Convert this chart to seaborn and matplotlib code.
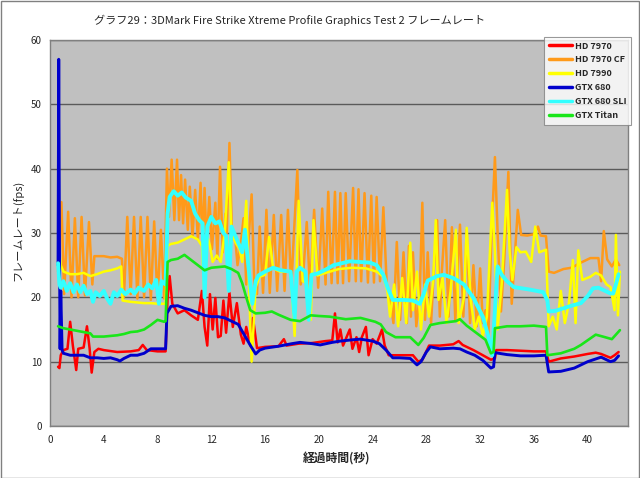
import matplotlib
matplotlib.use("Agg")
import matplotlib.pyplot as plt
import seaborn as sns
import pandas as pd
from matplotlib.patches import Rectangle
from matplotlib.lines import Line2D

# ---------------- data ----------------
series_names = ["HD 7970", "HD 7970 CF", "HD 7990", "GTX 680", "GTX 680 SLI", "GTX Titan"]
series_colors = ["#FF0000", "#FF9A1A", "#FFFF00", "#0000CC", "#33FFFF", "#19E619"]

hd7970_t = [0.6, 0.7, 0.8, 1.0, 1.3, 1.5, 1.7, 1.95, 2.1, 2.5, 2.75, 2.95, 3.1, 3.3, 3.6, 4.0, 5.0, 6.0, 6.6, 6.9, 7.2, 8.0, 8.6,
            8.75, 8.9, 9.1, 9.5, 10.0, 10.5, 11.0, 11.3, 11.5, 11.7, 11.9, 12.1, 12.3, 12.5, 12.7, 12.9, 13.1, 13.35, 13.6,
            13.9, 14.2, 14.4, 14.6, 14.9, 15.1, 15.4, 16.0, 17.0, 17.4, 17.6, 18.5, 19.5, 20.5, 21.0, 21.2, 21.4, 21.6, 21.8,
            22.0, 22.3, 22.5, 22.8, 23.0, 23.2, 23.5, 23.7, 24.0, 24.3, 24.7, 24.9, 25.2, 26.0, 27.0, 27.4, 27.7, 28.2, 29.0,
            30.0, 30.4, 30.7, 31.5, 32.2, 32.8, 33.1, 33.2, 34.0, 35.0, 36.0, 36.9, 37.1, 38.0, 39.0, 40.0, 40.6, 41.0, 41.7,
            42.0, 42.3]
hd7970_v = [9.2, 9.0, 11.0, 11.8, 12.0, 16.2, 12.5, 8.7, 12.0, 12.2, 15.5, 12.0, 8.3, 11.5, 12.0, 11.8, 11.5, 11.6, 11.8, 12.6, 11.8, 11.6, 11.6,
            20.0, 23.3, 19.0, 17.5, 18.0, 17.2, 16.5, 21.0, 15.4, 12.5, 20.5, 15.0, 19.9, 13.8, 14.0, 19.5, 14.5, 20.7, 15.4,
            19.1, 14.2, 12.8, 15.4, 12.5, 16.8, 12.1, 12.3, 12.4, 13.5, 12.5, 12.8, 12.9, 13.2, 13.3, 17.5, 13.0, 15.0, 12.5,
            13.5, 15.0, 12.0, 13.8, 11.5, 13.8, 15.4, 11.0, 13.5, 12.8, 15.0, 12.5, 11.0, 11.0, 11.0, 10.0, 10.3, 12.5, 12.5,
            12.7, 13.2, 12.6, 11.8, 11.0, 10.3, 10.5, 11.8, 11.8, 11.7, 11.6, 11.6, 10.0, 10.5, 10.8, 11.2, 11.4, 11.2, 10.6,
            11.0, 11.5]

hd7970cf_t = [0.6, 0.85, 1.05, 1.35, 1.6, 1.85, 2.1, 2.35, 2.6, 2.9, 3.15, 3.3, 4.0, 4.5, 5.0, 5.35, 5.5, 5.75, 6.0, 6.25, 6.5,
              6.75, 7.0, 7.25, 7.5, 7.75, 8.0, 8.25, 8.5, 8.7, 8.85, 9.05, 9.25, 9.45, 9.6, 9.75, 9.9, 10.05, 10.25, 10.4, 10.6,
              10.8, 11.0, 11.2, 11.35, 11.5, 11.65, 11.85, 12.05, 12.3, 12.45, 12.65, 12.85, 13.05, 13.15, 13.35, 13.55, 13.75,
              13.95, 14.2, 14.4, 14.6, 14.8, 15.0, 15.2, 15.4, 15.6, 15.85, 16.1, 16.35, 16.65, 16.9, 17.2, 17.45, 17.7, 17.95,
              18.15, 18.4, 18.65, 18.85, 19.1, 19.35, 19.65, 19.95, 20.25, 20.5, 20.7, 20.95, 21.2, 21.4, 21.6, 21.8, 22.0,
              22.25, 22.55, 22.75, 22.95, 23.15, 23.4, 23.65, 23.9, 24.1, 24.3, 24.55, 24.8, 25.05, 25.3, 25.55, 25.8, 26.05,
              26.3, 26.55, 26.7, 26.85, 27.0, 27.25, 27.5, 27.7, 27.9, 28.1, 28.35, 28.55, 28.8, 29.0, 29.15, 29.4, 29.65, 29.9,
              30.15, 30.5, 30.75, 31.0, 31.25, 31.5, 31.75, 32.0, 32.2, 32.4, 32.6, 32.85, 33.1, 33.3, 33.55, 33.8, 34.1, 34.35,
              34.8, 35.05, 35.5, 36.0, 36.3, 36.5, 36.9, 37.1, 37.5, 38.2, 38.8, 39.5, 40.2, 40.8, 41.0, 41.2, 41.45, 41.8, 42.1,
              42.35]
hd7970cf_v = [24.0, 34.8, 20.5, 33.3, 20.0, 32.3, 20.0, 32.5, 20.3, 31.7, 22.0, 26.4, 26.4, 26.2, 26.3, 26.0, 20.0, 32.5, 20.5, 32.5, 19.8,
              32.5, 20.0, 32.5, 19.6, 31.8, 19.6, 30.5, 19.8, 40.0, 32.5, 41.4, 32.0, 41.4, 32.0, 39.0, 31.5, 38.3, 30.5, 37.2, 29.5,
              36.7, 29.0, 37.8, 28.5, 37.0, 28.0, 35.6, 27.5, 34.7, 26.0, 40.3, 27.0, 33.0, 30.0, 44.0, 29.0, 30.0,
              25.0, 28.5, 32.3, 22.0, 30.0, 36.0, 22.0, 20.5, 31.0, 20.7, 33.6, 20.7, 32.8, 21.0, 32.8, 21.0, 33.6, 21.5,
              30.0, 39.8, 22.0, 24.0, 31.7, 21.0, 33.6, 21.5, 33.8, 22.0, 36.4, 22.2, 36.4, 22.2, 36.2, 22.2, 36.2,
              22.5, 37.0, 22.5, 36.8, 22.5, 36.2, 22.3, 35.8, 22.3, 35.6, 22.5, 34.0, 22.0, 20.0, 16.0, 28.6, 16.5,
              27.0, 16.0, 28.0, 17.0, 27.0, 15.5, 20.0, 34.7, 16.5, 27.0, 16.0, 24.0, 32.0, 17.0, 24.0, 32.0, 17.0, 30.9,
              16.5, 31.3, 17.0, 30.5, 16.0, 25.0, 15.5, 24.5, 16.0, 18.0, 13.5, 30.0, 41.8, 30.0, 17.8, 26.0, 39.5, 19.0,
              33.6, 29.7, 29.6, 29.8, 31.0, 29.6, 29.5, 24.0, 23.8, 24.4, 24.6, 25.4, 26.1, 26.1, 22.5, 30.3, 25.9, 24.8, 25.9,
              25.0]

hd7990_t = [0.6, 0.8, 1.0, 1.5, 2.0, 2.5, 3.0, 3.5, 4.0, 4.5, 5.0, 5.3, 5.4, 6.0, 6.5, 7.0, 7.5, 8.0, 8.6, 8.75, 9.0, 9.5, 10.0,
            10.5, 11.0, 11.3, 11.5, 11.7, 11.9, 12.1, 12.4, 12.7, 13.0, 13.3, 13.5, 13.8, 14.1, 14.3, 14.6, 14.8, 15.0, 15.3,
            15.6, 16.0, 16.3, 16.6, 17.1, 17.9, 18.2, 18.5, 18.8, 19.1, 19.4, 19.6, 19.9, 20.5, 21.5, 22.5, 23.5, 24.3, 24.8,
            25.1, 25.3, 25.6, 25.9, 26.2, 26.5, 26.8, 27.0, 27.3, 27.6, 27.9, 28.2, 28.5, 28.7, 28.9, 29.2, 29.5, 29.8, 30.2,
            30.4, 30.8, 31.0, 31.3, 31.6, 31.9, 32.2, 32.5, 32.9, 33.1, 33.3, 33.6, 34.0, 34.2, 34.4, 34.7, 35.0, 35.4, 35.8,
            36.1, 36.4, 36.9, 37.1, 37.4, 37.7, 38.0, 38.3, 38.6, 38.9, 39.1, 39.3, 39.6, 40.2, 40.6, 41.0, 41.4, 41.7, 42.0,
            42.1, 42.25, 42.4]
hd7990_v = [29.0, 25.0, 24.0, 23.6, 23.6, 23.8, 23.3, 23.6, 24.0, 24.2, 24.5, 24.8, 19.5, 19.3, 19.2, 19.1, 19.1, 19.0, 19.0, 28.0, 28.3, 28.5, 29.0,
            29.5, 29.0, 28.0, 20.0, 29.5, 28.0, 25.5, 26.5, 25.5, 30.0, 41.0, 30.0, 28.5, 27.5, 25.5, 35.0, 22.0, 10.0, 21.6,
            23.2, 23.5, 29.4, 24.5, 24.0, 24.0, 14.0, 35.0, 22.5, 22.2, 16.5, 32.0, 23.4, 23.8, 24.4, 24.6, 24.5, 24.0, 23.2,
            21.0, 17.0, 22.0, 15.5, 23.0, 16.0, 28.5, 18.0, 24.0, 15.0, 22.0, 17.0, 22.4, 32.0, 19.6, 23.0, 16.0, 21.0, 30.5,
            16.0, 20.0, 30.8, 19.6, 15.0, 17.0, 14.0, 17.0, 34.7, 27.0, 15.0, 22.0, 36.7, 27.0, 22.7, 27.8, 27.0, 27.1, 25.5,
            31.0, 27.0, 27.4, 15.5, 17.0, 15.0, 21.0, 16.0, 19.0, 25.8, 16.0, 27.3, 22.7, 23.2, 23.8, 23.4, 22.0, 21.6, 18.0,
            29.7, 17.2, 24.0]

gtx680_t = [0.6, 0.65, 0.7, 0.75, 0.8, 0.9, 1.0, 1.5, 2.0, 2.5, 3.0, 3.5, 4.0, 4.5, 5.0, 5.2, 5.5, 6.0, 6.5, 7.0, 7.5, 8.0, 8.6,
            8.7, 9.0, 9.5, 10.0, 10.5, 11.0, 11.5, 12.0, 12.5, 13.0, 13.5, 14.0, 14.5, 15.0, 15.3, 15.6, 16.0, 17.0, 18.0,
            18.6, 19.5, 20.1, 21.0, 21.6, 22.5, 23.1, 24.0, 24.5, 25.0, 25.5, 26.0, 26.8, 27.3, 27.6, 28.0, 28.3, 29.0, 30.0,
            30.5, 31.0, 31.6, 32.2, 32.8, 33.0, 33.1, 34.0, 35.0, 36.0, 36.9, 37.1, 38.0, 39.0, 39.5, 40.0, 41.0, 41.7, 42.0,
            42.3]
gtx680_v = [25.0, 57.0, 30.0, 12.0, 21.0, 11.8, 11.3, 11.0, 11.0, 11.0, 10.6, 10.6, 10.5, 10.6, 10.3, 10.1, 10.5, 11.0, 11.0, 11.3, 12.0, 12.0, 12.0,
            17.5, 18.6, 18.7, 18.3, 18.0, 17.6, 17.2, 17.0, 17.0, 16.8, 16.3, 15.8, 14.0, 12.2, 11.2, 11.8, 12.1, 12.4, 12.8,
            13.0, 12.8, 12.6, 13.0, 13.2, 13.4, 13.5, 13.2, 12.8, 11.8, 10.6, 10.6, 10.5, 9.5, 10.0, 11.5, 12.3, 12.0, 12.1,
            12.0, 11.5, 11.0, 10.2, 9.0, 9.2, 11.4, 11.1, 10.9, 10.9, 11.0, 8.4, 8.5, 9.0, 9.5, 10.0, 10.7, 10.0, 10.2,
            10.9]

gtx680sli_t = [0.6, 0.7, 0.8, 1.0, 1.25, 1.5, 1.75, 2.0, 2.25, 2.5, 2.75, 3.0, 3.2, 3.4, 3.7, 4.0, 4.25, 4.5, 4.75, 5.0, 5.3, 5.6,
               6.0, 6.3, 6.6, 7.0, 7.3, 7.6, 7.9, 8.1, 8.3, 8.6, 8.75, 8.9, 9.2, 9.5, 9.8, 10.1, 10.5, 10.8, 11.1, 11.35, 11.5,
               11.7, 12.0, 12.3, 12.6, 12.9, 13.1, 13.3, 13.5, 13.8, 14.0, 14.3, 14.5, 14.75, 15.05, 15.3, 15.5, 16.0, 16.6,
               17.2, 17.9, 18.2, 18.35, 18.6, 19.0, 19.25, 19.45, 19.9, 20.5, 21.1, 21.7, 22.3, 23.0, 23.8, 24.3, 24.8, 25.1,
               25.5, 26.3, 27.0, 27.5, 27.8, 28.1, 28.8, 29.3, 30.0, 30.8, 31.5, 32.2, 32.6, 32.9, 33.1, 33.3, 33.6, 34.0, 34.5,
               35.1, 35.7, 36.2, 36.7, 37.0, 37.1, 37.6, 38.2, 38.8, 39.5, 40.0, 40.4, 40.8, 41.2, 41.7, 41.9, 42.1, 42.3]
gtx680sli_v = [25.3, 22.0, 21.5, 22.5, 21.0, 22.2, 20.8, 22.0, 20.8, 21.8, 20.5, 21.0, 19.3, 20.8, 20.2, 21.0, 19.8, 19.0, 20.8, 20.2, 21.2, 20.5,
               21.2, 20.6, 21.5, 21.0, 22.0, 21.4, 22.7, 19.0, 22.5, 22.0, 33.0, 35.6, 36.5, 35.8, 36.3, 35.5, 35.0, 33.0, 32.0, 31.5, 20.0,
               31.0, 32.5, 31.5, 31.8, 30.0, 29.5, 21.0, 31.0, 29.5, 28.5, 27.0, 30.5, 25.0, 19.0, 22.5, 23.4, 24.0, 24.6,
               24.2, 24.0, 16.5, 24.0, 24.6, 24.0, 16.5, 23.5, 23.7, 24.3, 25.0, 25.3, 25.6, 25.5, 25.4, 25.0, 23.5, 21.6,
               19.6, 19.6, 19.5, 19.0, 20.5, 22.6, 23.3, 23.5, 23.0, 22.0, 19.9, 17.0, 14.0, 11.0, 18.0, 24.8, 23.5, 22.5, 21.6,
               21.4, 21.2, 21.0, 20.8, 19.5, 17.8, 17.9, 18.3, 18.7, 19.1, 20.2, 21.4, 21.5, 21.1, 20.6, 20.6, 22.0, 23.6]

titan_t = [0.6, 1.0, 1.5, 2.0, 2.5, 3.0, 3.2, 4.0, 5.0, 5.5, 6.0, 6.5, 7.0, 7.5, 8.0, 8.5, 8.6, 8.75, 9.0, 9.5, 10.0, 10.5, 11.0,
           11.5, 12.0, 12.5, 13.0, 13.5, 14.0, 14.3, 14.6, 14.9, 15.3, 16.0, 16.5, 17.0, 17.9, 18.6, 19.4, 20.0, 20.8, 22.0,
           23.1, 24.2, 24.6, 25.0, 25.7, 26.8, 27.4, 27.8, 28.3, 29.0, 30.2, 30.5, 31.0, 31.7, 32.4, 32.8, 33.0, 33.1, 34.0,
           35.0, 36.0, 36.9, 37.0, 38.0, 39.0, 39.5, 40.6, 41.3, 41.8, 42.4]
titan_v = [15.5, 15.2, 15.0, 14.8, 14.6, 14.4, 13.9, 13.9, 14.1, 14.3, 14.6, 14.7, 15.0, 15.7, 16.5, 16.2, 16.3, 25.5, 25.8, 26.0, 26.6, 25.8, 25.0,
           24.2, 24.6, 24.7, 24.8, 24.4, 23.8, 22.2, 20.0, 18.0, 17.5, 17.6, 17.8, 17.3, 16.5, 16.3, 17.2, 17.1, 17.0, 16.6,
           16.8, 16.2, 15.8, 14.6, 13.8, 13.8, 12.6, 13.7, 15.7, 16.0, 16.3, 16.6, 15.6, 14.5, 13.4, 11.3, 11.5, 15.2, 15.5,
           15.5, 15.6, 15.4, 11.0, 11.3, 12.0, 12.6, 14.2, 13.8, 13.5, 14.9]

x_ticks = [0, 4, 8, 12, 16, 20, 24, 28, 32, 36, 40]
y_ticks = [0, 10, 20, 30, 40, 50, 60]

title_text = "グラフ29：3DMark Fire Strike Xtreme Profile Graphics Test 2 フレームレート"
x_label = "経過時間(秒)"
y_label = "フレームレート(fps)"

# ---------------- build table ----------------
all_t = [hd7970_t, hd7970cf_t, hd7990_t, gtx680_t, gtx680sli_t, titan_t]
all_v = [hd7970_v, hd7970cf_v, hd7990_v, gtx680_v, gtx680sli_v, titan_v]
rows = []
for name, ts, vs in zip(series_names, all_t, all_v):
    for t, v in zip(ts, vs):
        rows.append({"series": name, "t": t, "fps": v})
df = pd.DataFrame(rows)

# ---------------- style ----------------
sns.set_style("white")
plt.rcParams["font.family"] = ["Noto Sans CJK JP", "DejaVu Sans"]

fig = plt.figure(figsize=(6.4, 4.78), dpi=100)
fig.patch.set_facecolor("white")
ax = fig.add_axes([50 / 640, 1 - 426 / 478, 578 / 640, 386 / 478])
ax.set_facecolor("#C0C0C0")

widths = {"HD 7970": 1.8, "HD 7970 CF": 1.8, "HD 7990": 1.8, "GTX 680": 2.1, "GTX 680 SLI": 2.8, "GTX Titan": 1.9}
sns.lineplot(data=df, x="t", y="fps", hue="series", hue_order=series_names,
             palette=dict(zip(series_names, series_colors)), estimator=None,
             sort=False, units="series", ax=ax, legend=False)
for line, name in zip(ax.get_lines(), series_names):
    line.set_linewidth(widths[name])
    line.set_solid_joinstyle("round")

ax.set_xlim(0, 43)
ax.set_ylim(0, 60)
ax.set_xticks(x_ticks)
ax.set_yticks(y_ticks)
ax.yaxis.grid(True, color="#5a5a5a", linewidth=1.0)
ax.xaxis.grid(False)
ax.set_axisbelow(True)
for s in ax.spines.values():
    s.set_color("#808080")
    s.set_linewidth(1.0)
ax.tick_params(axis="x", direction="inout", length=5, width=0.8, color="#606060", labelsize=7, pad=4)
ax.tick_params(axis="y", direction="out", length=4, width=0.8, color="#606060", labelsize=7, pad=2)
ax.set_xlabel("")
ax.set_ylabel("")

# legend
handles = [Line2D([0], [0], color=c, lw=2.5) for c in series_colors]
leg = fig.legend(handles, series_names, loc="upper right",
                 bbox_to_anchor=(631 / 640, 1 - 37 / 478), frameon=True, fancybox=False,
                 prop={"size": 6.5, "weight": "bold"}, handlelength=2.6, handletextpad=0.3,
                 labelspacing=0.55, borderpad=0.5, borderaxespad=0)
leg.get_frame().set_edgecolor("#808080")
leg.get_frame().set_linewidth(0.8)
leg.get_frame().set_facecolor("white")

fig.text(290 / 640, 1 - 20 / 478, title_text, ha="center", va="center", fontsize=8)
fig.text(337 / 640, 1 - 459 / 478, x_label, ha="center", va="center", fontsize=8.5, fontweight="bold")
fig.text(18 / 640, 1 - 230 / 478, y_label, ha="center", va="center", rotation=90, fontsize=8)

fig.patches.append(Rectangle((0.001, 0.001), 0.997, 0.997, transform=fig.transFigure,
                             fill=False, edgecolor="#808080", linewidth=1.0))

fig.savefig("out.png", dpi=100)
